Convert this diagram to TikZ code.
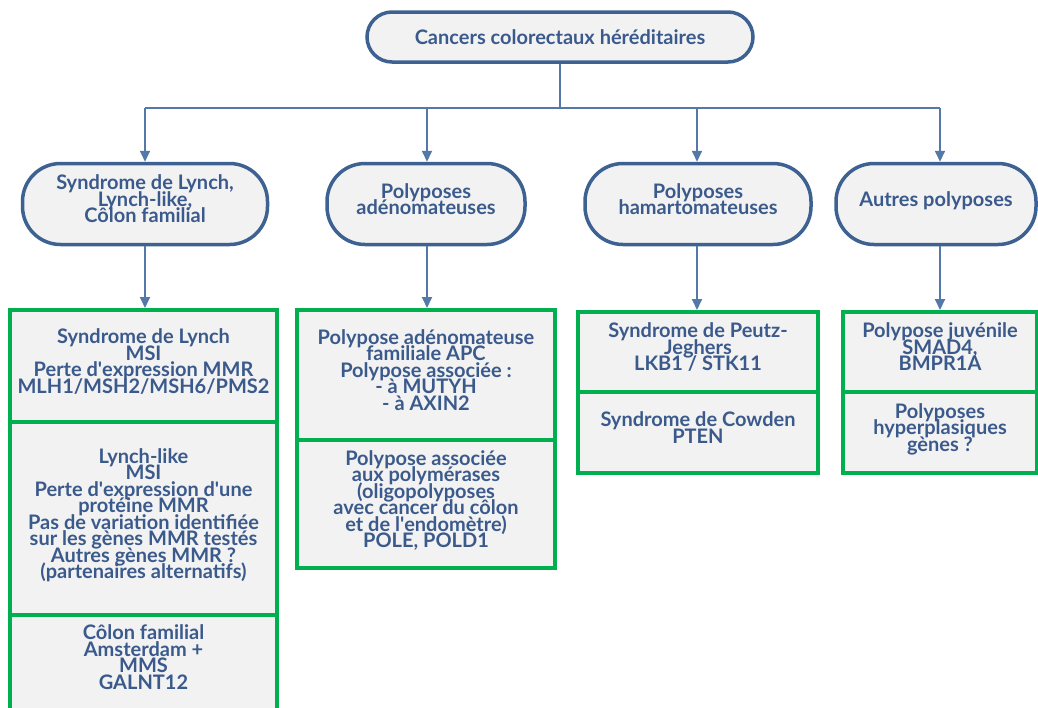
\documentclass[tikz,border=0pt]{standalone}
\usepackage{fontspec}
\setmainfont{Lato}
\usetikzlibrary{arrows.meta}
\definecolor{txtblue}{HTML}{3B5A8C}
\definecolor{edgeblue}{HTML}{3D6291}
\definecolor{lineblue}{HTML}{5479A8}
\definecolor{boxfill}{HTML}{F2F2F2}
\definecolor{boxgreen}{HTML}{00B04F}
\newcommand{\apos}{\textquotesingle}
\newcommand{\boxfont}{\bfseries\fontsize{20}{16.5}\selectfont\lineskiplimit-50pt\relax}
\begin{document}
\begin{tikzpicture}[x=1pt,y=-1pt,
  txt/.style={text=txtblue,font=\boxfont,align=center},
  lift/.style={text depth=10pt},
  pill/.style={txt,draw=edgeblue,line width=3.5pt,fill=boxfill,rounded corners=#1,inner sep=0pt},
  gbox/.style={txt,lift,draw=boxgreen,line width=4pt,fill=boxfill,inner sep=0pt},
  conn/.style={draw=lineblue,line width=1.8pt},
  arr/.style={conn,-{Triangle[length=11pt,width=10pt]}}]
\useasboundingbox[fill=white] (0,0) rectangle (1038,707);

% top
\node[pill=25,minimum width=386pt,minimum height=50pt] (top) at (560,37) {Cancers colorectaux héréditaires};

% level 2
\node[pill=38,lift,minimum width=245pt,minimum height=81pt] (l1) at (145,204) {Syndrome de Lynch,\\Lynch-like,\\Côlon familial};
\node[pill=38,lift,minimum width=198pt,minimum height=81pt] (l2) at (426,204) {Polyposes\\adénomateuses};
\node[pill=38,lift,minimum width=226pt,minimum height=81pt] (l3) at (698,204) {Polyposes\\hamartomateuses};
\node[pill=38,lift,minimum width=200pt,minimum height=81pt] (l4) at (936,204) {Autres polyposes};

% green boxes column 1
\node[gbox,minimum width=267pt,minimum height=112pt] (b11) at (143.5,366) {Syndrome de Lynch\\MSI\\Perte d\apos expression MMR\\MLH1/MSH2/MSH6/PMS2};
\node[gbox,minimum width=267pt,minimum height=193pt] (b12) at (143.5,518.5) {Lynch-like\\MSI\\Perte d\apos expression d\apos une\\protéine MMR\\Pas de variation identifiée\\sur les gènes MMR testés\\Autres gènes MMR ?\\(partenaires alternatifs)};
\node[gbox,minimum width=267pt,minimum height=97pt] (b13) at (143.5,663.5) {};
\node[txt] (b13t) at (143.5,657) {Côlon familial\\Amsterdam +\\MMS\\GALNT12};

% column 2
\node[gbox,minimum width=258pt,minimum height=130pt] (b21) at (426,375) {Polypose adénomateuse\\familiale APC\\Polypose associée :\\- à MUTYH\\- à AXIN2};
\node[gbox,minimum width=258pt,minimum height=128pt] (b22) at (426,504) {Polypose associée\\aux polymérases\\(oligopolyposes\\avec cancer du côlon\\et de l\apos endomètre)\\POLE, POLD1};

% column 3
\node[gbox,minimum width=240pt,minimum height=80pt] (b31) at (698,352) {Syndrome de Peutz-\\Jeghers\\LKB1 / STK11};
\node[gbox,minimum width=240pt,minimum height=81pt] (b32) at (698,432.5) {Syndrome de Cowden\\PTEN};

% column 4
\node[gbox,minimum width=194pt,minimum height=80pt] (b41) at (940,352) {Polypose juvénile\\SMAD4,\\BMPR1A};
\node[gbox,minimum width=194pt,minimum height=81pt] (b42) at (940,432.5) {Polyposes\\hyperplasiques\\gènes ?};

% connectors
\coordinate (d1) at (145,108);
\coordinate (d2) at (427,108);
\coordinate (d3) at (697,108);
\coordinate (d4) at (940,108);
\draw[conn] (top.south) -- (top.south |- d1);
\draw[conn] (d1) -- (d4);
\draw[arr] (d1) -- (d1 |- l1.north);
\draw[arr] (d2) -- (d2 |- l2.north);
\draw[arr] (d3) -- (d3 |- l3.north);
\draw[arr] (d4) -- (d4 |- l4.north);

\draw[arr] (l1.south -| d1) -- (d1 |- b11.north);
\draw[arr] (l2.south -| d2) -- (d2 |- b21.north);
\draw[arr] (l3.south -| d3) -- (d3 |- b31.north);
\draw[arr] (l4.south -| d4) -- (d4 |- b41.north);
\end{tikzpicture}
\end{document}
